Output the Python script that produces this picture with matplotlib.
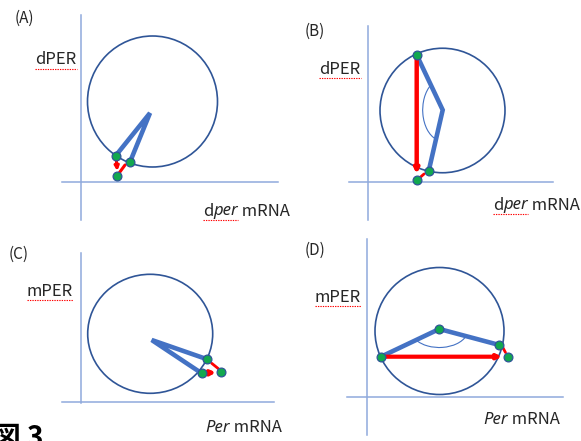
import numpy as np
import matplotlib
matplotlib.use('Agg')
from matplotlib import pyplot as plt
from matplotlib.patches import Ellipse, Arc, FancyArrowPatch

plt.rcParams['font.family'] = ['Noto Sans CJK JP', 'DejaVu Sans']

# Panel geometry, in pixel coordinates (y down)
panel_tags = ['(A)', '(B)', '(C)', '(D)']
tag_pos = [(24, 18), (315, 31), (19, 254), (315, 250)]

# axis lines: (x of vertical, y0, y1), (y of horizontal, x0, x1)
v_axes = [(80.7, 15, 220), (367.7, 26, 220), (81, 253, 403), (366.7, 239, 435)]
h_axes = [(182, 62, 278), (182.3, 349, 553), (401.5, 62, 274), (397.3, 347, 563)]

# limit cycle: centre x, centre y, width, height
cycles = [(152.5, 101.5, 130, 131), (442.5, 110.5, 125, 124.5),
          (150.2, 333.8, 125, 119), (439.5, 331, 129, 127)]

# phase hands: apex, end 1, end 2
hands = [((150, 113), (115.7, 155.7), (130, 162)),
         ((442.7, 110), (416.7, 55), (428.7, 171)),
         ((151.7, 340), (207.3, 359.3), (201.7, 373.3)),
         ((439.3, 329), (381, 356.7), (499.3, 345))]

# state points
dots_x = [115.7, 130, 116.7, 416.7, 428.7, 416.7, 207.3, 201.7, 221.3, 439.3, 381, 499.3, 508.3]
dots_y = [155.7, 162, 175.7, 55, 171, 180, 359.3, 373.3, 372, 329, 356.7, 345, 356.7]

# perturbation arrows: start, end, line width, with head
kicks = [((116.3, 160), (117.3, 171), 2.2, True),
         ((125, 165), (119.5, 172.5), 2.2, False),
         ((416.7, 58), (416.7, 174), 3.2, True),
         ((424, 174), (420, 177.5), 2.0, False),
         ((204.5, 373), (216, 372.5), 3.0, True),
         ((211.7, 363.3), (218.5, 368.8), 2.0, False),
         ((384, 356.7), (502, 356.7), 3.0, True),
         ((502.7, 347.3), (505.5, 352.5), 2.0, False)]

# phase-angle arcs: centre, width, height, theta1, theta2
arcs = [((442.7, 110), 40, 62, 103, 245),
        ((439.3, 329), 58, 37, 15, 155)]

# axis labels: y label, x label pieces
y_labels = ['dPER', 'dPER', 'mPER', 'mPER']
y_label_pos = [(56, 60), (340, 69), (50, 291), (338, 297)]
x_label_pos = [(203, 211), (493, 205), (205, 428), (483, 420)]
x_label_parts = [[('d', 'normal'), ('per', 'italic'), (' mRNA', 'normal')],
                 [('d', 'normal'), ('per', 'italic'), (' mRNA', 'normal')],
                 [('Per', 'italic'), (' mRNA', 'normal')],
                 [('Per', 'italic'), (' mRNA', 'normal')]]

AXIS_C = '#8FAADC'
CYCLE_C = '#2F5597'
HAND_C = '#4472C4'
DOT_C = '#12A84F'
RED = '#FF0000'
TEXT_C = '#262626'


def squiggle(ax, x0, x1, y):
    ax.plot([x0, x1], [y, y], color=RED, lw=0.8, ls=(0, (1.2, 1.0)))


def piecewise_text(fig, ax, x, y, parts, size):
    renderer = fig.canvas.get_renderer()
    extents = []
    for s, style in parts:
        fam = ['Noto Sans', 'DejaVu Sans'] if style == 'italic' else ['Noto Sans CJK JP', 'DejaVu Sans']
        t = ax.text(x, y, s, fontsize=size, style=style, family=fam,
                    color=TEXT_C, ha='left', va='center')
        bb = t.get_window_extent(renderer).transformed(ax.transData.inverted())
        extents.append((x, bb.x1))
        x = bb.x1
    return extents


def main():
    fig = plt.figure(figsize=(5.81, 4.41), dpi=100)
    ax = fig.add_axes([0, 0, 1, 1])
    ax.set_xlim(0, 581)
    ax.set_ylim(441, 0)
    ax.axis('off')

    for (vx, vy0, vy1), (hy, hx0, hx1) in zip(v_axes, h_axes):
        ax.plot([vx, vx], [vy0, vy1], color=AXIS_C, lw=1.1)
        ax.plot([hx0, hx1], [hy, hy], color=AXIS_C, lw=1.1)

    for cx, cy, w, h in cycles:
        ax.add_patch(Ellipse((cx, cy), w, h, fill=False, ec=CYCLE_C, lw=1.2))

    for (c, w, h, t1, t2) in arcs:
        ax.add_patch(Arc(c, w, h, theta1=t1, theta2=t2, color=HAND_C, lw=0.8))

    for apex, e1, e2 in hands:
        ax.plot([e1[0], apex[0], e2[0]], [e1[1], apex[1], e2[1]],
                color=HAND_C, lw=3.3, solid_capstyle='butt', solid_joinstyle='miter')

    for p0, p1, lw, head in kicks:
        style = '-|>' if head else '-'
        ax.add_patch(FancyArrowPatch(p0, p1, arrowstyle=style, mutation_scale=6,
                                     color=RED, lw=lw, shrinkA=0, shrinkB=0, zorder=4))

    ax.scatter(dots_x, dots_y, s=40, c=DOT_C, edgecolors=CYCLE_C, linewidths=0.9, zorder=5)

    for tag, (tx, ty) in zip(panel_tags, tag_pos):
        ax.text(tx, ty, tag, fontsize=11, ha='center', va='center', color=TEXT_C)

    for lab, (lx, ly) in zip(y_labels, y_label_pos):
        t = ax.text(lx, ly, lab, fontsize=12, ha='center', va='center', color=TEXT_C)
        bb = t.get_window_extent(fig.canvas.get_renderer()).transformed(ax.transData.inverted())
        squiggle(ax, bb.x0, bb.x1, ly + 9)

    for i, ((lx, ly), parts) in enumerate(zip(x_label_pos, x_label_parts)):
        ext = piecewise_text(fig, ax, lx, ly, parts, 12)
        if i < 2:
            squiggle(ax, ext[0][0], ext[1][1], ly + 9)

    # figure number, runs off the bottom edge
    ax.text(-7, 446, '図 3', fontsize=20, fontweight='bold', ha='left', va='baseline', color='black')

    fig.savefig('out.png', dpi=100)


if __name__ == '__main__':
    main()
